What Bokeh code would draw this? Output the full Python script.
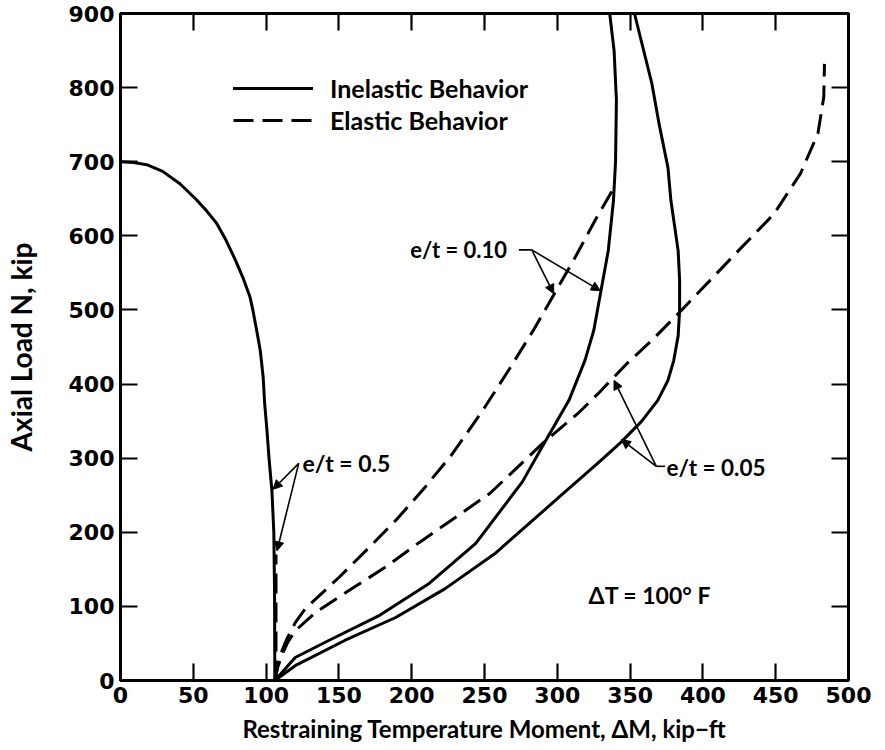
from bokeh.plotting import figure
from bokeh.models import (Range1d, LinearAxis, Label, Arrow, NormalHead, Legend,
                          LegendItem, FixedTicker, CustomJSTickFormatter)
from bokeh.embed import file_html
from bokeh.resources import INLINE

# ---------------- data ----------------
x_ticks = [0, 50, 100, 150, 200, 250, 300, 350, 400, 450, 500]
y_ticks = [0, 100, 200, 300, 400, 500, 600, 700, 800, 900]

# e/t = 0.5, inelastic
in05_x = [0, 9, 18, 29, 41, 52, 59, 66, 72.5, 79, 84, 89, 91, 94.4, 96, 98, 99, 100.5, 102, 104, 105.3, 105.8, 106]
in05_y = [700, 699, 696, 687, 670, 649, 634, 617, 594, 567, 544, 517, 499, 463, 445, 409, 374, 340, 300, 256, 200, 120, 0]
# e/t = 0.5, elastic
el05_x = [106.8, 106.8]
el05_y = [0, 170]
# e/t = 0.10, elastic
el10_x = [106, 108, 110.5, 114, 120, 127, 150, 171, 189, 208, 228, 248, 267, 284, 298, 312, 326, 338.6]
el10_y = [0, 20, 38, 55, 78, 97, 139, 180, 216, 258, 306, 362, 420, 474, 522, 570, 621, 664]
# e/t = 0.10, inelastic
in10_x = [106, 120, 143, 178, 212, 244, 276, 291, 308, 319, 325, 330, 335, 338.6, 340, 340.6, 339, 336]
in10_y = [0, 31, 54, 88, 131, 185, 268, 320, 378, 432, 472, 526, 580, 648, 700, 783, 850, 900]
# e/t = 0.05, elastic
el005_x = [106, 108, 111, 115, 120, 134, 159, 182, 205, 230, 254, 291, 314, 328, 349, 365, 385, 422, 449, 467, 479, 483, 483.5]
el005_y = [0, 18, 35, 52, 67, 92, 124, 153, 186, 220, 253, 322, 360, 387, 430, 459, 499, 575, 630, 684, 738, 787, 832]
# e/t = 0.05, inelastic
in005_x = [106, 120, 154, 189, 223, 257, 301, 330, 344, 358, 369, 376, 380, 383, 384, 384, 383, 378, 376, 370, 365, 353]
in005_y = [0, 20, 54, 85, 124, 171, 247, 297, 322, 350, 378, 405, 432, 465, 499, 540, 580, 648, 692, 750, 805, 900]

FONT = "Lato"
TICK_FONT = "DejaVu Sans"
DASH = "20 9"
LW = 3

p = figure(width=885, height=750, x_range=Range1d(0, 500), y_range=Range1d(0, 900),
           output_backend="svg", toolbar_location=None,
           min_border_left=117, min_border_right=37, min_border_top=13, min_border_bottom=70)
p.xgrid.visible = False
p.ygrid.visible = False
p.outline_line_color = "black"
p.outline_line_width = 3
p.background_fill_color = "white"
p.border_fill_color = "white"

def style_axis(ax, ticks, show_labels):
    ax.ticker = FixedTicker(ticks=ticks)
    ax.axis_line_width = 3
    ax.axis_line_color = "black"
    ax.major_tick_in = 17
    ax.major_tick_out = 0
    ax.major_tick_line_width = 2.2
    ax.minor_tick_line_color = None
    if show_labels:
        ax.major_label_text_font = TICK_FONT
        ax.major_label_text_font_style = "bold"
        ax.major_label_text_font_size = "22px"
        ax.major_label_text_color = "black"
        ax.major_label_standoff = 6
        ax.axis_label_text_font = FONT
        ax.axis_label_text_font_style = "bold"
        ax.axis_label_text_color = "black"
    else:
        ax.formatter = CustomJSTickFormatter(code="return ''")
        ax.major_label_text_font_size = "0px"
        ax.major_label_standoff = 0

style_axis(p.xaxis[0], x_ticks, True)
style_axis(p.yaxis[0], y_ticks, True)
p.xaxis[0].axis_label = "Restraining Temperature Moment, ΔM, kip\u2212ft"
p.xaxis[0].axis_label_text_font_size = "24px"
p.xaxis[0].axis_label_standoff = 8
p.yaxis[0].axis_label = "Axial Load N, kip"
p.yaxis[0].axis_label_text_font_size = "28px"
p.yaxis[0].axis_label_standoff = 28

top = LinearAxis()
style_axis(top, x_ticks, False)
p.add_layout(top, "above")
right = LinearAxis()
style_axis(right, y_ticks, False)
p.add_layout(right, "right")

# curves
def curve(xs, ys, dash=None):
    kw = dict(line_width=LW, line_color="black", line_join="round", line_cap="round")
    if dash:
        kw["line_dash"] = dash
        kw["line_cap"] = "butt"
    return p.line(xs, ys, **kw)

r_in05 = curve(in05_x, in05_y)
r_el05 = curve(el05_x, el05_y, DASH)
r_el10 = curve(el10_x, el10_y, DASH)
r_in10 = curve(in10_x, in10_y)
r_el005 = curve(el005_x, el005_y, DASH)
r_in005 = curve(in005_x, in005_y)

legend = Legend(items=[LegendItem(label="Inelastic Behavior", renderers=[r_in10]),
                       LegendItem(label="Elastic Behavior", renderers=[r_el10])],
                location=(113, 544), glyph_width=80, glyph_height=32, spacing=0,
                padding=0, margin=0, label_standoff=17, border_line_color=None,
                background_fill_alpha=0, label_text_font=FONT,
                label_text_font_style="bold", label_text_font_size="25px",
                label_text_color="black", label_height=32)
p.add_layout(legend, "center")

def lab(x, y, t, size="22px"):
    p.add_layout(Label(x=x, y=y, text=t, text_font=FONT, text_font_style="bold",
                       text_font_size=size, text_baseline="middle", text_align="left",
                       text_color="black"))

def arrow(x0, y0, x1, y1, head=True):
    p.add_layout(Arrow(x_start=x0, y_start=y0, x_end=x1, y_end=y1, line_width=1.6,
                       line_color="black",
                       end=NormalHead(size=9, fill_color="black", line_color="black") if head else None))

# e/t = 0.10
lab(199, 582, "e/t = 0.10", "22px")
arrow(273.6, 581, 282.5, 581, head=False)
arrow(282.5, 581, 297.5, 522)
arrow(282.5, 581, 329.5, 526)

# e/t = 0.5
lab(125, 293, "e/t = 0.5", "23px")
arrow(122.4, 293, 104.8, 258)
arrow(122.4, 293, 107.5, 175)

# e/t = 0.05
lab(375, 287, "e/t = 0.05", "22.5px")
arrow(368, 289, 374, 289, head=False)
arrow(368, 289, 339, 405)
arrow(368, 289, 344, 325)

lab(321.5, 116, "ΔT = 100° F", "23px")

open("out.html", "w").write(file_html(p, INLINE))
